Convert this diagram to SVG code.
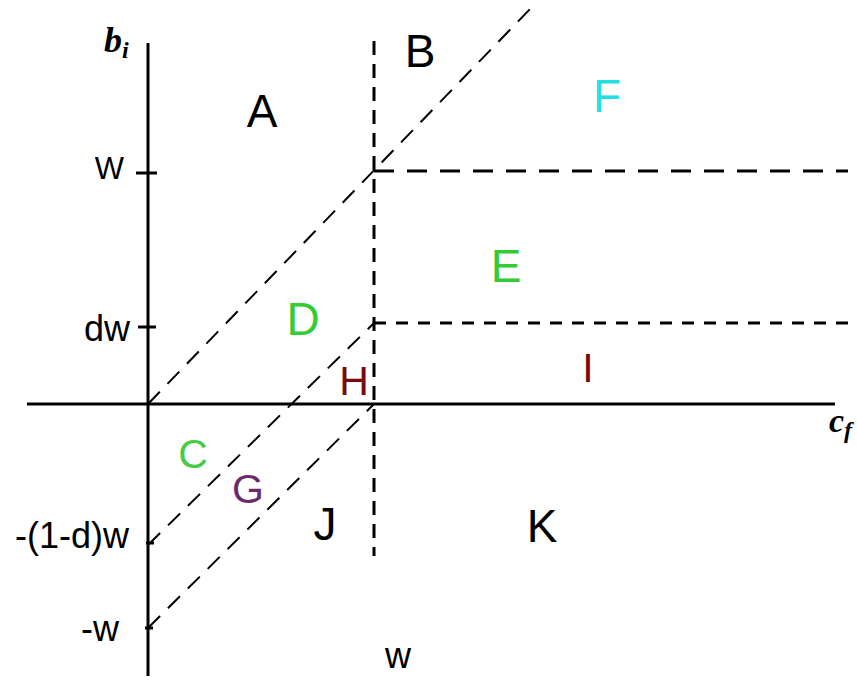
<svg xmlns="http://www.w3.org/2000/svg" width="857" height="680" viewBox="0 0 857 680">
<style>
.axis{stroke:#000;stroke-width:3;fill:none}
.tick{stroke:#000;stroke-width:3}
.vd{stroke:#000;stroke-width:3;stroke-dasharray:14 9;fill:none}
.hd1{stroke:#000;stroke-width:3;stroke-dasharray:20 13;fill:none}
.hd2{stroke:#000;stroke-width:3;stroke-dasharray:12 10;fill:none}
.dg{stroke:#000;stroke-width:2;stroke-dasharray:17 11;fill:none}
.reg{font-family:"Liberation Sans",Arial,sans-serif;font-size:46px;text-anchor:middle}
.small{font-family:"Liberation Sans",Arial,sans-serif;font-size:41px;text-anchor:middle}
.tl{font-family:"Liberation Sans",Arial,sans-serif;font-size:36px;text-anchor:end;fill:#000}
.math{font-family:"Liberation Serif","Times New Roman",serif;font-weight:bold;font-style:italic;fill:#000}
</style>
<rect width="857" height="680" fill="#fff"/>
<g id="connectors">
<line class="dg" x1="148" y1="404" x2="533" y2="6"/>
<line class="dg" x1="148" y1="545" x2="374" y2="323"/>
<line class="dg" x1="148" y1="628" x2="374" y2="404"/>
<line class="vd" x1="374" y1="41" x2="374" y2="556"/>
<line class="hd1" x1="374" y1="171" x2="848" y2="171"/>
<line class="hd2" x1="374" y1="323" x2="850" y2="323"/>
</g>
<g id="axes">
<line class="axis" x1="148" y1="43" x2="148" y2="676"/>
<line class="axis" x1="27" y1="404" x2="835" y2="404"/>
<line class="tick" x1="136" y1="173" x2="157" y2="173"/>
<line class="tick" x1="138" y1="327" x2="156" y2="327"/>
<line class="tick" x1="146" y1="543" x2="154" y2="543"/>
<line class="tick" x1="145" y1="628" x2="153" y2="628"/>
</g>
<g id="axis-labels">
<text class="math" x="104" y="52" font-size="36">b<tspan font-size="24" dy="6">i</tspan></text>
<text class="math" x="829" y="432" font-size="34">c<tspan font-size="24" dy="6">f</tspan></text>
<text class="tl" x="124" y="179" style="font-size:31px">W</text>
<text class="tl" x="130" y="341">dw</text>
<text class="tl" x="129" y="548">-(1-d)w</text>
<text class="tl" x="119" y="641">-w</text>
<text class="tl" x="398" y="668" style="text-anchor:middle">w</text>
</g>
<g id="region-A"><text class="reg" x="262" y="127" fill="#000">A</text></g>
<g id="region-B"><text class="reg" x="420" y="67" fill="#000">B</text></g>
<g id="region-F"><text class="reg" x="607" y="112" fill="#22e0e0">F</text></g>
<g id="region-E"><text class="reg" x="506" y="282" fill="#33cc33">E</text></g>
<g id="region-D"><text class="reg" x="303" y="335" fill="#33cc33">D</text></g>
<g id="region-H"><text class="small" x="354" y="395" fill="#7a0a0a">H</text></g>
<g id="region-I"><text class="small" x="588" y="382" fill="#7a0a0a">I</text></g>
<g id="region-C"><text class="small" x="193" y="468" fill="#44cc44">C</text></g>
<g id="region-G"><text class="small" x="248" y="503" fill="#6a2a6a">G</text></g>
<g id="region-J"><text class="reg" x="325" y="540" fill="#000">J</text></g>
<g id="region-K"><text class="reg" x="542" y="542" fill="#000">K</text></g>
</svg>
